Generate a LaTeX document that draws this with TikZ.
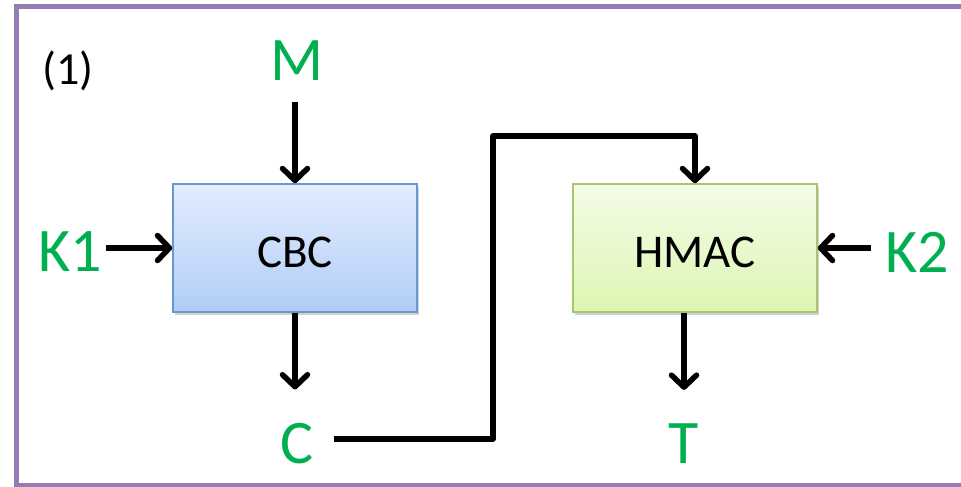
\documentclass[tikz,border=0pt]{standalone}
\usepackage{fontspec}
\setmainfont{Carlito}
\usetikzlibrary{arrows.meta,shadows}

\definecolor{framepurple}{RGB}{150,124,180}
\definecolor{labgreen}{RGB}{0,176,80}
\definecolor{cbctop}{RGB}{227,237,253}
\definecolor{cbcbot}{RGB}{176,205,248}
\definecolor{cbcline}{RGB}{104,150,207}
\definecolor{mactop}{RGB}{244,252,232}
\definecolor{macbot}{RGB}{221,246,178}
\definecolor{macline}{RGB}{168,199,104}

\tikzset{
  blockbox/.style={draw, line width=1.5pt, minimum width=244pt, minimum height=128pt,
    inner sep=0pt, text height=38.6pt, text depth=0pt, font=\fontsize{47}{50}\selectfont,
    drop shadow={shadow xshift=2pt, shadow yshift=-3pt, opacity=0.3, fill=black!60}},
  cbcbox/.style={blockbox, draw=cbcline, top color=cbctop, bottom color=cbcbot},
  macbox/.style={blockbox, draw=macline, top color=mactop, bottom color=macbot},
  sig/.style={text=labgreen, inner sep=0pt, font=\fontsize{62}{66}\selectfont},
  wire/.style={line width=5.5pt, line join=round, line cap=butt},
  arr/.style={wire, -{Straight Barb[length=12pt,width=25pt,line cap=round,line join=round]}}
}

\begin{document}
\begin{tikzpicture}[x=1pt,y=-1pt]
  \useasboundingbox (0,0) rectangle (961,487);
  \clip (0,0) rectangle (961,487);

  % outer frame, running past the right edge
  \draw[framepurple, line width=5pt] (16.5,6.5) rectangle (1000,485.5);

  \node[inner sep=0pt, font=\fontsize{46}{50}\selectfont] (num) at (68,71) {(1)};

  % blocks
  \node[cbcbox] (cbc) at (295,248) {CBC};
  \node[macbox] (hmac) at (695,248) {HMAC};

  % inputs and outputs
  \node[sig] (M)  at (297,61)  {M};
  \node[sig] (K1) at (70,252)  {K1};
  \node[sig] (K2) at (917,252) {K2};
  \node[sig] (C)  at (297,444) {C};
  \node[sig] (T)  at (684,444) {T};

  % connectors
  \draw[arr, shorten <=21pt] (M.south -| cbc.north) -- (cbc.north);
  \draw[arr, shorten <=4pt] (K1.east |- cbc.west) -- (cbc.west);
  \draw[arr, shorten <=14pt] (K2.west |- hmac.east) -- (hmac.east);
  \draw[arr, shorten >=34pt] (cbc.south) -- (cbc.south |- C.north);
  \draw[arr, shorten >=34pt] (hmac.south -| T.north) -- (T.north);
  \draw[arr] ([xshift=20pt,yshift=5pt]C.east) -| (493,136) -| (hmac.north);
\end{tikzpicture}
\end{document}
